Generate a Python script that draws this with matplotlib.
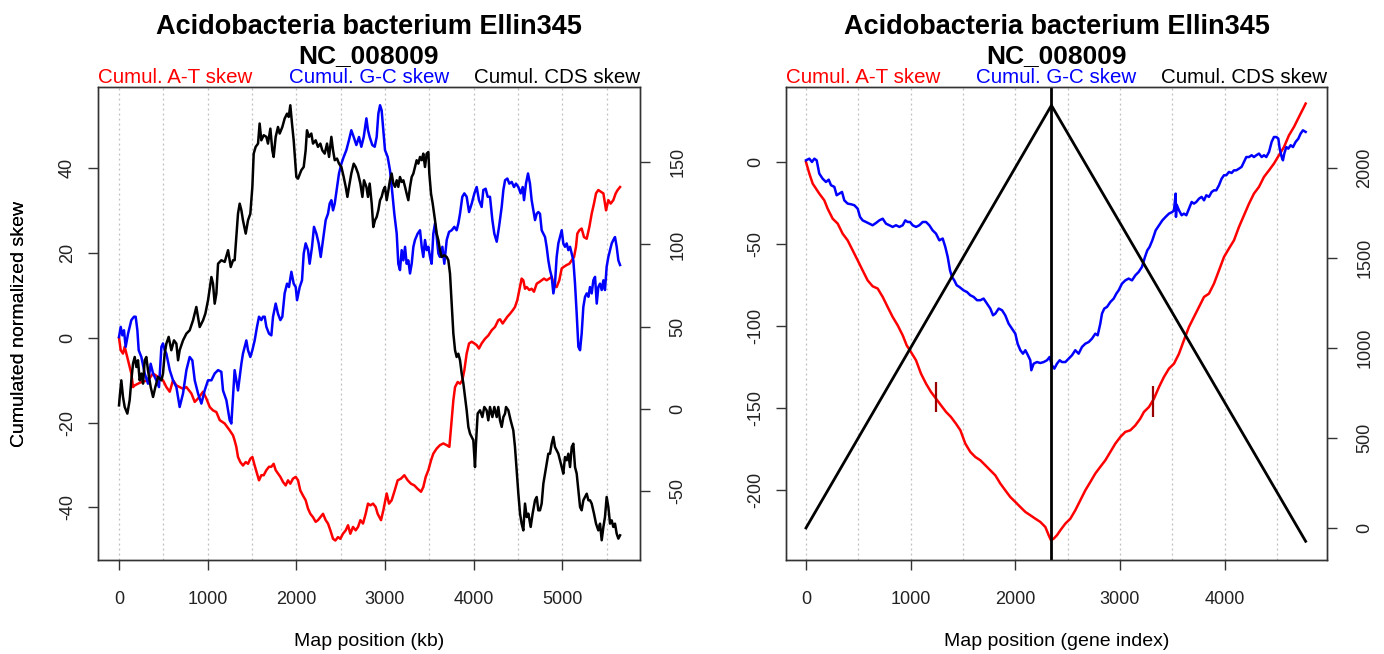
import matplotlib
matplotlib.use("Agg")
import matplotlib.pyplot as plt

plt.rcParams['font.family'] = ['Liberation Sans', 'DejaVu Sans']

# ---------------- data: left panel (map position in kb) ----------------
at_kb = [0, 19, 45, 64, 102, 139, 158, 177, 252, 327, 384, 440, 496, 534, 572, 609, 647, 684, 722, 760,
         816, 854, 891, 948, 985, 1023, 1060, 1098, 1136, 1192, 1248, 1286, 1304, 1323, 1342, 1368, 1398,
         1429, 1455, 1481, 1504, 1530, 1556, 1579, 1605, 1632, 1662, 1692, 1718, 1744, 1767, 1793, 1820,
         1850, 1880, 1906, 1932, 1962, 1993, 2019, 2045, 2075, 2105, 2132, 2158, 2188, 2218, 2244, 2271,
         2301, 2331, 2357, 2384, 2414, 2440, 2470, 2496, 2526, 2557, 2583, 2609, 2639, 2669, 2696, 2722,
         2752, 2782, 2808, 2835, 2865, 2895, 2917, 2955, 2981, 3019, 3045, 3075, 3105, 3143, 3180, 3218,
         3256, 3293, 3331, 3368, 3406, 3432, 3459, 3489, 3519, 3545, 3583, 3620, 3658, 3696, 3726, 3752,
         3771, 3790, 3820, 3846, 3872, 3895, 3921, 3948, 3978, 4008, 4034, 4060, 4090, 4128, 4166, 4203,
         4241, 4278, 4297, 4327, 4354, 4380, 4410, 4440, 4466, 4492, 4515, 4541, 4560, 4579, 4598, 4628,
         4654, 4680, 4711, 4741, 4767, 4793, 4823, 4853, 4880, 4906, 4936, 4966, 4993, 5019, 5049, 5079,
         5106, 5132, 5154, 5169, 5192, 5218, 5244, 5275, 5305, 5331, 5357, 5380, 5406, 5433, 5463, 5493,
         5519, 5545, 5575, 5602, 5624, 5651]
at_skew = [0, -2.9, -3.7, -2.1, -5.3, -8.4, -11.6, -11.2, -10.4, -10.0, -8.4, -9.2, -10.0, -11.6, -12.7,
           -10.0, -11.2, -11.6, -12.0, -11.6, -13.1, -15.1, -14.3, -12.7, -14.3, -16.3, -17.1, -17.5, -19.4,
           -20.2, -21.8, -23.0, -24.2, -25.7, -28.1, -29.3, -30.1, -29.3, -29.7, -28.5, -28.1, -30.1, -32.0,
           -33.6, -32.4, -32.4, -31.2, -30.4, -30.4, -29.7, -31.2, -32.0, -32.8, -34.0, -34.8, -33.6, -34.4,
           -33.2, -32.8, -33.6, -36.0, -37.2, -38.3, -40.3, -41.5, -42.3, -43.4, -43.0, -42.3, -41.5, -43.0,
           -43.8, -45.4, -47.4, -47.8, -47.0, -47.4, -46.2, -45.4, -44.2, -46.2, -44.6, -45.4, -44.6, -43.0,
           -43.8, -41.5, -39.1, -39.5, -39.1, -39.9, -41.5, -43.0, -40.7, -36.7, -39.1, -38.3, -36.3, -33.6,
           -33.2, -32.4, -33.6, -34.4, -34.8, -35.6, -36.3, -35.2, -32.8, -31.2, -28.9, -27.3, -26.1, -25.3,
           -24.9, -25.3, -25.7, -19.4, -14.7, -11.6, -10.4, -10.8, -10.0, -7.6, -3.7, -1.3, -0.9, -1.3, -1.7,
           -2.5, -1.3, -0.2, 0.6, 1.8, 2.6, 4.2, 4.4, 3.4, 4.2, 5.0, 5.7, 6.5, 7.3, 8.9, 11.3, 14.0, 13.6,
           11.6, 12.0, 11.3, 11.6, 10.9, 12.8, 13.2, 13.6, 14.0, 13.6, 14.0, 14.4, 12.4, 12.0, 13.6, 16.4,
           16.8, 17.2, 17.5, 18.3, 19.1, 21.5, 24.6, 25.4, 25.8, 23.8, 23.4, 26.2, 29.3, 31.7, 34.1, 34.9,
           34.5, 34.1, 30.1, 32.5, 31.7, 32.5, 34.1, 34.9, 35.6]

gc_kb = [0, 19, 38, 56, 75, 102, 139, 169, 188, 207, 222, 252, 290, 327, 357, 384, 421, 451, 478, 496,
         515, 534, 572, 609, 647, 684, 722, 760, 797, 827, 854, 891, 929, 966, 1004, 1042, 1079, 1117,
         1154, 1173, 1211, 1248, 1267, 1286, 1304, 1323, 1342, 1361, 1380, 1398, 1417, 1436, 1455, 1481,
         1504, 1530, 1556, 1579, 1605, 1624, 1643, 1662, 1692, 1718, 1737, 1767, 1793, 1820, 1842, 1868,
         1895, 1917, 1944, 1970, 1993, 2008, 2038, 2064, 2083, 2105, 2132, 2150, 2177, 2199, 2226, 2252,
         2275, 2301, 2331, 2357, 2376, 2395, 2414, 2433, 2459, 2481, 2508, 2534, 2564, 2594, 2620, 2647,
         2677, 2707, 2733, 2760, 2790, 2808, 2827, 2857, 2884, 2906, 2925, 2944, 2962, 2981, 3000, 3030,
         3056, 3083, 3105, 3132, 3150, 3169, 3188, 3207, 3226, 3244, 3263, 3282, 3301, 3320, 3338, 3368,
         3395, 3414, 3432, 3451, 3470, 3489, 3508, 3526, 3545, 3564, 3583, 3602, 3620, 3647, 3669, 3696,
         3722, 3752, 3782, 3808, 3827, 3846, 3872, 3895, 3921, 3948, 3978, 4008, 4034, 4060, 4090, 4109,
         4135, 4158, 4184, 4211, 4233, 4260, 4286, 4316, 4335, 4354, 4380, 4402, 4429, 4455, 4477, 4504,
         4530, 4553, 4568, 4590, 4613, 4635, 4654, 4673, 4692, 4711, 4729, 4748, 4767, 4786, 4805, 4823,
         4842, 4861, 4880, 4899, 4917, 4936, 4955, 4974, 4993, 5011, 5030, 5049, 5068, 5087, 5106, 5124,
         5143, 5162, 5181, 5200, 5218, 5237, 5256, 5275, 5294, 5312, 5331, 5350, 5369, 5388, 5406, 5425,
         5444, 5463, 5481, 5500, 5519, 5538, 5557, 5575, 5594, 5613, 5632, 5651]
gc_skew = [0.2, 2.6, 0.6, 1.8, -2.1, 1.0, 4.2, 5.0, 5.0, 1.8, -2.9, -4.5, -8.4, -10.8, -6.1, -8.4, -10.0,
           -11.6, -2.1, -1.3, -2.9, -3.7, -7.6, -10.0, -11.6, -16.3, -13.1, -7.6, -4.5, -5.3, -10.0, -13.1,
           -15.5, -12.4, -10.0, -10.0, -8.4, -7.6, -8.0, -12.4, -14.7, -19.4, -20.2, -13.9, -7.6, -10.0,
           -12.4, -9.2, -6.1, -3.7, -2.1, -0.6, -2.9, -4.5, -2.9, -0.6, 2.6, 5.0, 4.2, 5.0, 5.0, 2.6, 1.0,
           0.6, 5.0, 8.1, 5.7, 4.2, 5.0, 10.5, 12.8, 12.0, 15.6, 12.8, 12.0, 8.9, 12.0, 13.6, 19.9, 22.3,
           20.7, 17.5, 21.5, 26.2, 24.6, 22.3, 19.1, 23.1, 27.8, 29.3, 31.7, 32.5, 30.1, 31.7, 35.6, 38.8,
           41.1, 42.7, 44.3, 46.7, 49.0, 47.4, 45.5, 47.4, 45.1, 47.4, 51.8, 49.0, 47.4, 45.5, 45.1, 47.4,
           52.9, 54.9, 53.7, 49.0, 44.3, 42.7, 39.6, 34.1, 29.3, 24.6, 17.5, 16.0, 20.7, 18.3, 21.5, 17.5,
           18.3, 15.2, 17.5, 21.5, 23.1, 24.6, 25.4, 21.5, 19.1, 23.1, 20.7, 21.5, 19.1, 17.5, 24.6, 27.0,
           23.8, 19.9, 19.1, 21.5, 17.5, 23.1, 25.0, 25.4, 26.2, 25.4, 27.0, 29.3, 33.3, 34.1, 33.3, 29.7,
           31.7, 34.1, 35.6, 32.5, 30.9, 34.9, 35.2, 33.3, 33.3, 27.8, 24.6, 22.7, 26.2, 30.9, 34.9, 37.2,
           37.6, 36.4, 36.8, 35.6, 36.4, 35.6, 34.1, 35.6, 32.5, 36.4, 38.8, 36.4, 32.5, 30.1, 27.8, 29.3,
           29.7, 29.3, 25.4, 24.6, 23.8, 21.5, 18.3, 16.0, 14.4, 10.5, 12.8, 19.1, 22.3, 23.8, 25.4, 22.3,
           21.5, 22.3, 20.7, 21.5, 19.9, 18.3, 12.8, 5.7, -2.1, -2.9, 1.0, 7.3, 9.7, 10.5, 9.7, 12.0, 10.5,
           13.6, 14.4, 8.1, 12.0, 12.8, 11.3, 13.6, 11.3, 16.8, 19.1, 20.7, 22.3, 23.1, 23.8, 21.5, 18.3,
           17.2]

cds_kb = [0, 8, 26, 45, 64, 94, 120, 139, 158, 177, 196, 214, 233, 252, 271, 290, 308, 327, 357, 384,
          410, 440, 478, 496, 515, 534, 560, 590, 620, 647, 666, 684, 722, 760, 797, 835, 872, 891, 910,
          948, 974, 1004, 1042, 1060, 1079, 1098, 1117, 1154, 1192, 1230, 1260, 1286, 1304, 1323, 1342,
          1361, 1380, 1398, 1429, 1455, 1481, 1504, 1519, 1541, 1568, 1586, 1605, 1632, 1662, 1680, 1707,
          1729, 1744, 1767, 1793, 1812, 1842, 1868, 1895, 1914, 1932, 1951, 1970, 1989, 2000, 2019, 2056,
          2083, 2105, 2120, 2143, 2169, 2188, 2218, 2244, 2271, 2293, 2320, 2346, 2369, 2395, 2414, 2433,
          2459, 2481, 2508, 2534, 2557, 2576, 2594, 2620, 2647, 2669, 2696, 2722, 2745, 2763, 2790, 2808,
          2827, 2850, 2868, 2887, 2906, 2925, 2944, 2962, 2981, 3000, 3019, 3038, 3056, 3075, 3094, 3113,
          3132, 3150, 3169, 3188, 3207, 3226, 3244, 3263, 3282, 3301, 3320, 3338, 3357, 3376, 3395, 3414,
          3432, 3451, 3470, 3489, 3500, 3519, 3538, 3564, 3583, 3602, 3620, 3639, 3669, 3696, 3714, 3733,
          3752, 3771, 3790, 3808, 3827, 3846, 3865, 3884, 3902, 3921, 3940, 3959, 3978, 3996, 4015, 4026,
          4045, 4072, 4098, 4120, 4146, 4165, 4184, 4211, 4233, 4260, 4278, 4297, 4316, 4335, 4354, 4365,
          4391, 4417, 4447, 4466, 4485, 4504, 4523, 4541, 4560, 4579, 4598, 4617, 4643, 4665, 4692, 4711,
          4729, 4748, 4767, 4786, 4805, 4823, 4842, 4861, 4880, 4899, 4917, 4936, 4955, 4974, 4993, 5011,
          5030, 5049, 5068, 5087, 5106, 5124, 5143, 5162, 5181, 5200, 5218, 5237, 5256, 5275, 5294, 5312,
          5331, 5357, 5380, 5406, 5425, 5444, 5463, 5481, 5500, 5519, 5538, 5557, 5575, 5594, 5613, 5632,
          5651]
cds_skew = [2.2, 7.3, 17.4, 7.3, 1.2, -2.8, 5.3, 17.4, 27.6, 31.6, 25.5, 29.6, 17.4, 21.5, 15.4, 29.6,
            31.6, 23.5, 13.4, 7.3, 13.4, 19.5, 17.4, 21.5, 33.6, 39.7, 43.8, 35.7, 41.7, 39.7, 29.6, 35.7,
            41.7, 45.8, 47.8, 53.9, 62.0, 55.9, 49.8, 53.9, 58.0, 66.1, 80.2, 76.2, 64.0, 70.1, 88.3, 90.4,
            89.4, 96.5, 86.3, 90.4, 90.4, 104.6, 118.7, 124.8, 120.8, 114.7, 106.6, 114.7, 118.7, 135.0,
            155.2, 159.3, 161.3, 173.5, 163.3, 166.4, 165.4, 161.3, 170.4, 157.2, 153.2, 165.4, 171.4,
            167.4, 171.4, 176.5, 179.5, 177.5, 184.6, 173.5, 163.3, 149.1, 141.0, 140.0, 145.1, 147.1,
            157.2, 169.4, 165.4, 167.4, 161.3, 163.3, 159.3, 161.3, 157.2, 155.2, 161.3, 153.2, 165.4,
            157.2, 151.2, 152.2, 149.1, 147.1, 141.0, 135.0, 128.9, 135.0, 143.1, 149.1, 147.1, 143.1,
            137.0, 128.9, 139.0, 135.0, 128.9, 137.0, 124.8, 110.6, 114.7, 116.7, 120.8, 126.9, 128.9,
            132.9, 135.0, 126.9, 132.9, 139.0, 143.1, 137.0, 135.0, 139.0, 135.0, 141.0, 138.0, 139.0,
            135.0, 130.9, 126.9, 135.0, 141.0, 143.1, 147.1, 151.2, 149.1, 153.2, 151.2, 155.2, 147.1,
            155.2, 156.2, 143.1, 130.9, 124.8, 114.7, 106.6, 102.5, 96.5, 92.4, 93.4, 92.4, 90.4, 82.3,
            64.0, 45.8, 35.7, 31.6, 33.6, 29.6, 21.5, 15.4, 7.3, -0.8, -10.9, -15.0, -17.0, -19.0, -35.3,
            -21.1, -2.8, -0.8, -4.9, 1.2, -0.8, -6.9, 1.2, -4.9, 1.2, -4.9, 1.2, -6.9, -10.9, -4.9, -2.8,
            1.2, -0.8, -6.9, -13.0, -23.1, -37.3, -51.5, -63.6, -69.7, -73.8, -57.5, -65.7, -63.6, -71.7,
            -63.6, -55.5, -53.5, -61.6, -61.6, -57.5, -45.4, -39.3, -33.2, -27.2, -27.2, -21.1, -17.0,
            -23.1, -25.1, -27.2, -31.2, -35.3, -39.3, -29.2, -31.2, -27.2, -35.3, -23.1, -21.1, -35.3,
            -39.3, -49.4, -59.6, -61.6, -55.5, -53.5, -51.5, -55.5, -55.5, -57.5, -63.6, -69.7, -73.8,
            -69.7, -79.8, -71.7, -65.7, -53.5, -59.6, -69.7, -67.7, -71.7, -69.7, -75.8, -78.8, -76.8]

# ---------------- data: right panel (gene index) ----------------
at_gene = [0, 32, 64, 96, 127, 175, 207, 255, 303, 350, 398, 446, 494, 541, 589, 637, 685, 733, 780, 828,
           876, 924, 962, 1003, 1051, 1099, 1147, 1194, 1242, 1290, 1338, 1385, 1433, 1475, 1522, 1570,
           1618, 1666, 1713, 1761, 1809, 1857, 1904, 1952, 2000, 2048, 2096, 2143, 2191, 2239, 2287, 2319,
           2341, 2366, 2398, 2430, 2478, 2526, 2573, 2621, 2669, 2717, 2764, 2812, 2860, 2908, 2956, 3003,
           3051, 3099, 3147, 3194, 3229, 3277, 3325, 3373, 3420, 3468, 3516, 3564, 3611, 3659, 3707, 3755,
           3803, 3850, 3898, 3946, 3994, 4041, 4089, 4137, 4185, 4233, 4280, 4328, 4376, 4424, 4471, 4519,
           4567, 4615, 4662, 4694, 4726, 4758, 4774]
at_gskew = [0, -7.1, -13.2, -16.3, -19.3, -23.4, -28.5, -34.6, -37.6, -43.7, -47.8, -53.9, -60.0, -66.1,
            -72.2, -75.8, -77.2, -82.3, -88.4, -94.5, -99.6, -105.7, -111.8, -115.9, -120.9, -129.1,
            -135.2, -140.2, -144.3, -148.4, -152.4, -155.5, -159.6, -163.6, -171.7, -176.8, -179.9,
            -181.9, -184.9, -188.0, -191.1, -196.1, -200.2, -204.3, -207.3, -210.4, -213.4, -215.4,
            -217.5, -219.5, -222.6, -227.6, -230.7, -229.7, -227.6, -224.6, -220.5, -217.5, -212.4,
            -206.3, -200.2, -195.1, -190.0, -185.9, -181.9, -176.8, -171.7, -167.7, -164.6, -163.6,
            -160.6, -156.5, -152.4, -149.4, -144.3, -137.2, -131.1, -126.0, -123.0, -116.9, -108.7,
            -100.6, -94.5, -88.4, -82.3, -80.3, -74.2, -66.1, -57.9, -52.8, -47.8, -39.6, -32.5, -25.4,
            -19.3, -15.2, -9.1, -5.1, -1.0, 4.1, 9.1, 16.3, 21.3, 25.4, 29.5, 33.5, 35.6]

gc_gene = [0, 32, 57, 80, 102, 127, 159, 191, 217, 239, 271, 293, 318, 344, 366, 398, 430, 462, 494, 516,
           541, 573, 605, 637, 669, 701, 733, 764, 796, 828, 860, 892, 924, 949, 971, 994, 1019, 1051, 1083,
           1115, 1147, 1178, 1210, 1242, 1274, 1306, 1331, 1354, 1376, 1395, 1417, 1440, 1465, 1506, 1538,
           1570, 1602, 1634, 1666, 1697, 1729, 1761, 1787, 1809, 1841, 1873, 1904, 1936, 1968, 2000, 2022,
           2048, 2073, 2096, 2121, 2143, 2153, 2175, 2207, 2239, 2271, 2303, 2328, 2350, 2373, 2398, 2424,
           2446, 2478, 2510, 2541, 2573, 2605, 2637, 2669, 2701, 2733, 2764, 2787, 2812, 2828, 2850, 2876,
           2908, 2940, 2965, 2987, 3019, 3051, 3083, 3115, 3147, 3178, 3210, 3239, 3261, 3283, 3309, 3341,
           3373, 3405, 3436, 3468, 3500, 3516, 3532, 3535, 3541, 3564, 3589, 3611, 3634, 3659, 3685, 3707,
           3729, 3755, 3780, 3803, 3825, 3850, 3876, 3898, 3920, 3946, 3971, 3994, 4016, 4041, 4067, 4089,
           4111, 4137, 4162, 4185, 4207, 4233, 4258, 4280, 4303, 4328, 4354, 4376, 4398, 4424, 4449, 4471,
           4494, 4513, 4526, 4545, 4557, 4570, 4589, 4608, 4631, 4653, 4678, 4704, 4726, 4748, 4774]
gc_gskew = [1.0, 2.0, 0, 2.0, 1.0, -7.1, -10.2, -12.2, -10.8, -14.2, -15.2, -20.3, -19.3, -18.3, -23.4,
            -25.4, -25.8, -26.4, -28.5, -33.5, -35.6, -36.6, -37.6, -38.6, -37.2, -35.6, -34.6, -37.6,
            -38.6, -39.6, -38.6, -39.6, -38.6, -35.6, -36.6, -36.6, -38.6, -39.6, -38.6, -36.6, -36.6,
            -38.6, -41.7, -43.7, -47.8, -46.7, -51.8, -57.9, -66.1, -70.1, -72.2, -75.2, -76.2, -78.3,
            -79.3, -81.3, -82.3, -84.3, -84.3, -83.3, -86.4, -89.4, -93.5, -92.5, -89.4, -90.4, -93.5,
            -98.6, -101.6, -104.7, -110.8, -114.8, -116.9, -114.8, -117.9, -120.9, -127.0, -123.0, -122.0,
            -122.6, -122.0, -120.9, -118.9, -124.0, -126.0, -123.0, -120.9, -122.0, -122.0, -119.9,
            -117.9, -114.8, -116.9, -112.8, -110.8, -109.8, -107.7, -104.7, -105.7, -98.6, -92.5, -89.4,
            -88.4, -85.4, -83.3, -80.3, -78.3, -74.2, -72.2, -71.1, -72.2, -69.1, -67.1, -64.0, -57.9,
            -53.9, -51.8, -47.8, -41.7, -38.6, -35.6, -33.5, -31.5, -30.5, -29.5, -19.3, -33.5, -26.0,
            -29.5, -32.5, -31.5, -32.5, -28.5, -24.4, -25.4, -24.4, -22.4, -21.3, -23.4, -20.3, -21.3,
            -18.3, -17.3, -17.3, -14.2, -10.2, -8.1, -8.1, -6.1, -6.7, -5.1, -5.1, -4.1, -3.0, 0, 3.0, 3.0,
            4.1, 3.0, 4.1, 5.1, 3.0, 4.1, 3.0, 6.1, 12.2, 15.2, 15.2, 14.2, 8.1, 3.0, 1.0, 5.1, 9.1, 8.1,
            10.2, 9.1, 12.2, 14.2, 17.3, 19.3, 18.3]

cds_gene = [0, 2345, 4774]
cds_gskew = [0, 2348, -74]
origin_gene = 2345
tick_gene = [1245, 3315]
tick_low = [-152.4, -155.5]
tick_high = [-134.0, -136.4]

title1 = "Acidobacteria bacterium Ellin345"
title2 = "NC_008009"
legend_texts = ["Cumul. A-T skew", "Cumul. G-C skew", "Cumul. CDS skew"]
legend_cols = ["#FF0000", "#0000FF", "#000000"]

# ---------------- figure ----------------
W, H = 1384, 654
fig = plt.figure(figsize=(W / 100, H / 100), dpi=100)


def make_panel(left_px, right_px, xlim, ylim, y2lim, xticks, yticks, y2ticks, grid, xlabel):
    top_px, bot_px = 87, 560
    ax = fig.add_axes([left_px / W, (H - bot_px) / H, (right_px - left_px) / W, (bot_px - top_px) / H])
    ax2 = ax.twinx()
    ax.set_xlim(*xlim)
    ax.set_ylim(*ylim)
    ax2.set_ylim(*y2lim)
    for g in grid:
        ax.axvline(g, color="#BEBEBE", lw=0.9, ls=(0, (1.5, 2.5)), zorder=0)
    ax.set_xticks(xticks)
    ax.set_xticklabels([str(v) for v in xticks])
    ax.set_yticks(yticks)
    ax.set_yticklabels([str(v) for v in yticks])
    ax2.set_yticks(y2ticks)
    ax2.set_yticklabels([str(v) for v in y2ticks])
    for a in (ax, ax2):
        for s in a.spines.values():
            s.set_linewidth(1.0)
            s.set_color("#333333")
        a.tick_params(direction="out", length=7, width=1, color="#333333", labelsize=13,
                      labelcolor="#222222")
    ax.tick_params(axis="x", pad=15)
    ax.tick_params(axis="y", pad=9)
    ax2.tick_params(axis="y", pad=14)
    plt.setp(ax.get_yticklabels(), rotation=90, va="center")
    plt.setp(ax2.get_yticklabels(), rotation=90, va="center")
    ax.set_xlabel(xlabel, fontsize=14)
    ax.xaxis.set_label_coords(0.5, -(633 - bot_px) / (bot_px - top_px))
    ax.set_ylabel("Cumulated normalized skew", fontsize=14)
    ax.yaxis.set_label_coords(-(left_px - 28) / (right_px - left_px), 0.5)
    cx = (left_px + right_px) / 2 / W
    fig.text(cx, 1 - 34 / H, title1, ha="center", va="baseline", fontsize=19.5, fontweight="bold")
    fig.text(cx, 1 - 63 / H, title2, ha="center", va="baseline", fontsize=19, fontweight="bold")
    ly = 1 - 83 / H
    fig.text(left_px / W, ly, legend_texts[0], color=legend_cols[0], ha="left", va="baseline", fontsize=14.8)
    fig.text(cx, ly, legend_texts[1], color=legend_cols[1], ha="center", va="baseline", fontsize=14.8)
    fig.text(right_px / W, ly, legend_texts[2], color=legend_cols[2], ha="right", va="baseline", fontsize=14.8)
    return ax, ax2


# left panel
axL, axL2 = make_panel(98, 640, (-237, 5876), (-52.4, 59.2), (-91.8, 195.7),
                       [0, 1000, 2000, 3000, 4000, 5000], [-40, -20, 0, 20, 40],
                       [-50, 0, 50, 100, 150], list(range(0, 5501, 500)), "Map position (kb)")
axL.plot(at_kb, at_skew, color="#FF0000", lw=1.8, zorder=2)
axL.plot(gc_kb, gc_skew, color="#0000FF", lw=1.8, zorder=3)
axL2.plot(cds_kb, cds_skew, color="#000000", lw=1.8)

# right panel
axR, axR2 = make_panel(786, 1327, (-191, 4978), (-242.7, 45.7), (-178, 2450),
                       [0, 1000, 2000, 3000, 4000], [-200, -150, -100, -50, 0],
                       [0, 500, 1000, 1500, 2000], list(range(0, 4501, 500)), "Map position (gene index)")
axR.plot(at_gene, at_gskew, color="#FF0000", lw=1.8, zorder=2)
axR.plot(gc_gene, gc_gskew, color="#0000FF", lw=1.8, zorder=3)
axR.vlines(tick_gene, tick_low, tick_high, color="#990000", lw=1.6, zorder=4)
axR2.plot(cds_gene, cds_gskew, color="#000000", lw=2.0)
axR2.axvline(origin_gene, color="#000000", lw=2.0)

fig.savefig("out.png", dpi=100)
